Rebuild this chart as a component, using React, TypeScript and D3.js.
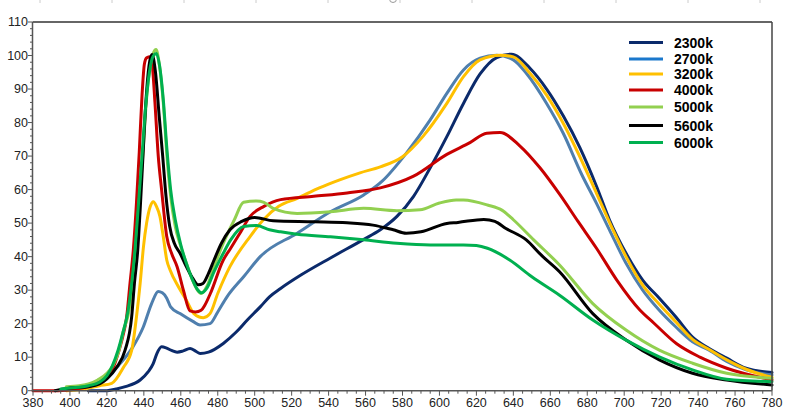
import React from "react";
import * as d3 from "d3";

type P = [number, number];

const s2300: P[] = [[410,0],[420,0],[425,0.5],[430,1.2],[438,3.2],[442.4,5.7],[445,8],[447,11],[449.6,13.1],[452,12.8],[455,12],[458,11.5],[461,11.8],[465,12.6],[468,11.8],[470.5,11.1],[475,11.5],[483,14.1],[490,17.5],[496,21.1],[503,25],[508,28],[514,30.5],[525,34.5],[541,39.6],[558.6,45],[568,48],[577,52],[586,58],[595,66.5],[604,75.8],[613,85.7],[622,94.5],[631,99.4],[639,100.4],[649,96.2],[658,90],[667,82],[676,72.5],[685,61],[692,51],[701,41],[710,33],[719,27.6],[728,22],[737,16],[746,12.6],[755.5,9.7],[766,6.7],[780,5.4]];

const s2700: P[] = [[407,0.5],[410,1.5],[416,3],[422,5],[427,8],[434,13],[439.7,19],[444.2,26],[447.8,29.6],[450,29.2],[452.4,27.6],[454.5,25],[459.6,23],[466.8,20.6],[470.4,19.6],[475.8,20],[480,23.5],[485,28],[494,34],[503,40],[523,47],[541,53.4],[559,58.4],[569,62.5],[582,70.8],[595,80.8],[604,88.7],[613,95.7],[622,99.2],[631,100.1],[640,98.7],[647,94.7],[658,85.7],[667,76.8],[677,64.5],[685,55.9],[692,48],[701,38],[710,30],[719,24],[728,19],[737,14.6],[746,12.1],[755.5,8.7],[766,6.2],[780,4.7]];

const s3200: P[] = [[398,0],[405,0.3],[410,0.8],[416,1.5],[422.6,2.2],[429,7],[433.4,12],[436,22],[438,32],[439.8,43],[441.5,50],[443.5,55],[445.1,56.4],[446.8,55],[448.7,52],[450.5,46],[452.4,39],[454.2,36],[458.7,31],[463,27],[467,23],[470,22],[472.2,21.8],[475.8,23],[480,29],[486.6,37],[497.5,46],[504.7,51],[513,55],[523,57.4],[535,60.5],[546,62.9],[557,65],[568,66.8],[580,69.8],[591,75.8],[604,85.7],[613,93.7],[622,98.7],[633,100.1],[640,99.6],[649,94.7],[658,88.2],[667,79.8],[676,69.8],[685,58.9],[694,47.9],[701,40],[710,31.5],[719,25.8],[728,20.5],[737,15.3],[746,12.3],[755.5,9.2],[766,6.4],[780,4]];

const s4000: P[] = [[380,0],[392,0],[400,0.3],[410,1.2],[416,2.5],[420,4.5],[423.5,7],[426,11],[428.5,16],[430.7,22],[432.5,32],[434.3,42],[436,56],[437.5,71],[439,88],[440.3,97.5],[441.5,99.3],[443.5,99.6],[444.5,97.5],[446,86],[447.8,70],[449.6,60],[452.4,46],[455,41],[458,37],[461.4,30],[465,23.8],[468,23.5],[471,24],[473,25.5],[476,29],[483,39],[487,42.5],[492,47],[497.5,52],[505,55],[514,57],[532,58],[550,59],[568,60.5],[586,64],[604,70.5],[616.5,74],[625.6,76.8],[632.8,77],[643.6,73],[654.4,66.5],[665.3,58.4],[675,50.5],[685,42.5],[696,33],[708.6,24],[716,20.2],[728.4,14],[741,10],[755.5,6.7],[780,3.2]];

const s5000: P[] = [[398,1.2],[405,1.5],[410,2],[415,3.2],[420,5.2],[423.5,7.8],[426.5,12],[429,18],[432,24],[434,33],[435.8,44],[437.4,56],[439.4,70],[441.3,86],[443.2,96],[445,100.5],[446.6,101.8],[448.2,98],[450.5,86],[452.5,70],[454.5,58],[457,49],[460,43],[463,38],[466,33.5],[469,30],[471,29],[474,31],[478,37],[483,44],[489,51],[494,56.2],[501,56.6],[505,56.2],[510,54.4],[523,52.9],[541,53.4],[559,54.4],[577,53.7],[589.5,54],[600,56],[609,56.9],[613,56.9],[626,55.4],[634,53.8],[640,51],[651,45],[665,37.5],[683,26],[701,18.1],[719,12.1],[737,8.2],[755.5,5.2],[780,3.7]];

const s5600: P[] = [[392,0],[395,0.4],[400,0.8],[410,1.2],[416,2],[420,3.5],[425.3,7],[429.8,12],[433.4,22],[434.9,32],[436.7,42],[438.2,56],[439.7,72],[441.2,87],[442.8,97],[444.4,100.3],[446.3,95],[448.3,82],[450.2,70],[452,58],[454,49],[456.5,44],[459.6,41],[463,37],[466.5,33.5],[469.5,31.6],[472,32],[475,35],[478,39],[482,44],[486.6,48],[493,50.5],[500,51.7],[510,50.7],[532,50.4],[550,50.1],[564,49.4],[575,48],[582,47],[590,47.4],[604,49.9],[610,50.2],[624,51.1],[630,50.5],[636,48.4],[647,45],[655,40.5],[665,35.5],[683,23],[701,15.1],[719,9.2],[737,5.2],[755.5,3.2],[780,1.7]];

const s6000: P[] = [[395,0.5],[400,0.8],[410,1.5],[416,2.5],[420,4.5],[423,7.5],[426,12],[428.5,17],[431.5,24],[433.4,32],[435.2,42],[437,55],[439,70],[441,85],[443,95],[445,99.8],[446.8,100.6],[448.5,97],[450.5,87],[452.5,72],[454.5,60],[457,51],[460,43.5],[463,38],[466,33.5],[469,30.2],[471.3,29.2],[474,30.5],[478,35.5],[483,41],[487,45],[494,49],[501,49.3],[508,48],[514,47.4],[523,46.7],[541,45.9],[559,45],[577,44],[595,43.5],[613,43.5],[620,43.3],[626,42.5],[638,39],[650,34],[665,28.5],[683,21.1],[701,15.1],[719,10.1],[737,6.2],[755.5,3.4],[780,2.7]];

const seriesNames = ["2300k", "2700k", "3200k", "4000k", "5000k", "5600k", "6000k"];
const seriesData = [s2300, s2700, s3200, s4000, s5000, s5600, s6000];
const lineColors = ["#0b2a6b", "#4f7fae", "#ffc000", "#c80000", "#92d050", "#000000", "#00b050"];
const legendColors = ["#0b2a6b", "#1b78cc", "#ffc000", "#c80000", "#92d050", "#000000", "#00b050"];
const legendY = [42.5, 59, 74, 90, 107, 125.5, 142.5];

const xTicks = d3.range(380, 781, 20);
const xMinor = d3.range(380, 781, 5);
const yTicks = d3.range(0, 111, 10);
const yMinor = d3.range(0, 111, 2);
const topMarks = d3.range(40, 790, 72);

export default function App() {
  const x = d3.scaleLinear().domain([380, 780]).range([33, 772]);
  const y = d3.scaleLinear().domain([0, 110]).range([390.7, 22]);
  const line = d3
    .line<P>()
    .x((d) => x(d[0]))
    .y((d) => y(d[1]))
    .curve(d3.curveMonotoneX);
  const font = "'Liberation Sans', Arial, sans-serif";
  const axisColor = "#555";
  return (
    <svg
      width={790}
      height={413}
      style={{ position: "absolute", left: 0, top: 0, background: "#fff" }}
    >
      <rect x={0} y={0} width={790} height={413} fill="#fff" />
      {topMarks.map((m) => (
        <line key={"tm" + m} x1={m} x2={m} y1={0} y2={3} stroke="#ccc" strokeWidth={1} />
      ))}
      <circle cx={393} cy={-1} r={3.5} fill="none" stroke="#999" strokeWidth={1} />

      {seriesData.map((s, i) => (
        <path
          key={seriesNames[i]}
          d={line(s) || ""}
          fill="none"
          stroke={lineColors[i]}
          strokeWidth={3}
          strokeLinejoin="round"
          strokeLinecap="round"
        />
      ))}

      {/* frame */}
      <line x1={x(380)} x2={x(780)} y1={y(110)} y2={y(110)} stroke="#333" strokeWidth={1.5} />
      <line x1={x(780)} x2={x(780)} y1={y(110)} y2={y(0)} stroke="#444" strokeWidth={1.5} />
      <line x1={x(380) - 0.5} x2={x(380) - 0.5} y1={y(110)} y2={y(0)} stroke={axisColor} strokeWidth={1.5} />
      <line x1={x(380) - 1} x2={x(780)} y1={y(0)} y2={y(0)} stroke={axisColor} strokeWidth={1.5} />

      {yMinor.map((v) => (
        <line
          key={"ym" + v}
          x1={x(380) - (v % 10 === 0 ? 5 : 3)}
          x2={x(380)}
          y1={y(v)}
          y2={y(v)}
          stroke={axisColor}
          strokeWidth={1}
        />
      ))}
      {yTicks.map((v) => (
        <text
          key={"yt" + v}
          x={28}
          y={y(v) + 4}
          textAnchor="end"
          fontFamily={font}
          fontSize={12.5}
          fill="#222"
        >
          {v}
        </text>
      ))}

      {xMinor.map((v) => (
        <line
          key={"xm" + v}
          x1={x(v)}
          x2={x(v)}
          y1={y(0)}
          y2={y(0) + (v % 20 === 0 ? 5 : 3)}
          stroke={axisColor}
          strokeWidth={1}
        />
      ))}
      {xTicks.map((v) => (
        <text
          key={"xt" + v}
          x={x(v)}
          y={407}
          textAnchor="middle"
          fontFamily={font}
          fontSize={12.5}
          fill="#222"
        >
          {v}
        </text>
      ))}

      {seriesNames.map((n, i) => (
        <g key={"lg" + n}>
          <line
            x1={629}
            x2={663}
            y1={legendY[i]}
            y2={legendY[i]}
            stroke={legendColors[i]}
            strokeWidth={3}
          />
          <text
            x={674}
            y={legendY[i] + 5}
            fontFamily={font}
            fontSize={14}
            fontWeight="bold"
            fill="#000"
          >
            {n}
          </text>
        </g>
      ))}
    </svg>
  );
}
